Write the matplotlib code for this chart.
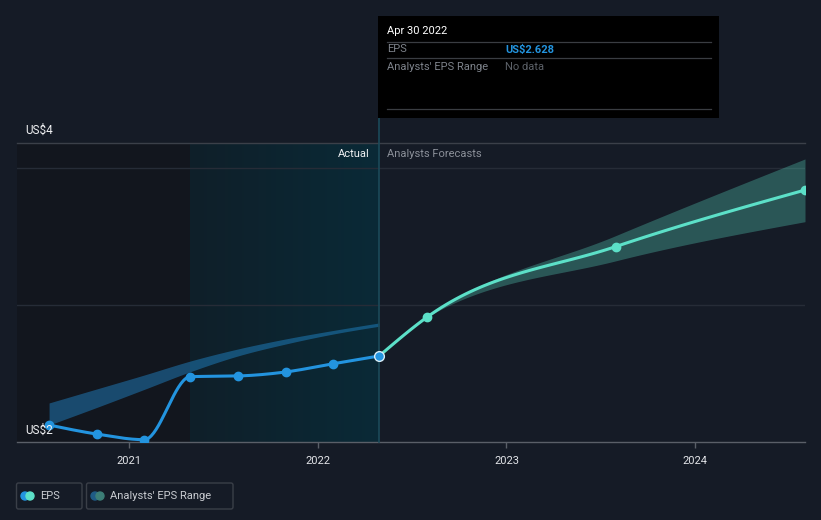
import numpy as np
import matplotlib
matplotlib.use("Agg")
import matplotlib.pyplot as plt
import matplotlib.dates as mdates
from matplotlib.patches import FancyBboxPatch, Rectangle, Circle

plt.rcParams['font.family'] = ['Roboto', 'DejaVu Sans']

# ---------------- data ----------------
past_dates = ["2020-07-31", "2020-10-31", "2021-01-31", "2021-04-30",
              "2021-07-31", "2021-10-31", "2022-01-31", "2022-04-30"]
past_eps = [2.124, 2.058, 2.017, 2.477, 2.482, 2.511, 2.571, 2.628]

past_range_low = [2.124, 2.252, 2.384, 2.513, 2.628, 2.715, 2.788, 2.845]
past_range_high = [2.285, 2.387, 2.489, 2.591, 2.679, 2.752, 2.814, 2.869]

fc_dates = ["2022-04-30", "2022-07-31", "2023-07-31", "2024-07-31"]
fc_eps = [2.628, 2.910, 3.426, 3.839]
fc_low = [2.628, 2.910, 3.322, 3.608]
fc_high = [2.628, 2.910, 3.506, 4.066]

year_ticks = ["2021-01-01", "2022-01-01", "2023-01-01", "2024-01-01"]
year_labels = ["2021", "2022", "2023", "2024"]
y_labels = ["US$4", "US$2"]

tooltip_date = "Apr 30 2022"
tooltip_eps = "US$2.628"

# ---------------- colors ----------------
BG = "#151b26"
LEFT_DARK = "#12161e"
BLUE = "#2394df"
MINT = "#5ce0c8"


def dn(lst):
    return mdates.date2num(np.array(lst, dtype="datetime64[D]"))


def monotone(x, y, n=40):
    x = np.asarray(x, float)
    y = np.asarray(y, float)
    if len(x) < 3:
        xs = np.linspace(x[0], x[-1], n)
        return xs, np.interp(xs, x, y)
    h = np.diff(x)
    s = np.diff(y) / h
    m = np.zeros(len(x))
    for i in range(1, len(x) - 1):
        s0, s1 = s[i - 1], s[i]
        h0, h1 = h[i - 1], h[i]
        p = (s0 * h1 + s1 * h0) / (h0 + h1)
        m[i] = (np.sign(s0) + np.sign(s1)) * min(abs(s0), abs(s1), 0.5 * abs(p))
    m[0] = (3 * s[0] - m[1]) / 2
    m[-1] = (3 * s[-1] - m[-2]) / 2
    xs_all, ys_all = [], []
    for i in range(len(x) - 1):
        t = np.linspace(0, 1, n)
        h00 = 2 * t**3 - 3 * t**2 + 1
        h10 = t**3 - 2 * t**2 + t
        h01 = -2 * t**3 + 3 * t**2
        h11 = t**3 - t**2
        yy = h00 * y[i] + h10 * h[i] * m[i] + h01 * y[i + 1] + h11 * h[i] * m[i + 1]
        xx = x[i] + t * h[i]
        if i > 0:
            xx, yy = xx[1:], yy[1:]
        xs_all.append(xx)
        ys_all.append(yy)
    return np.concatenate(xs_all), np.concatenate(ys_all)


W, H = 821, 520
fig = plt.figure(figsize=(W / 100, H / 100), dpi=100, facecolor=BG)

ax_l, ax_r, ax_b, ax_t = 17, 805, 442, 142.5
ax = fig.add_axes([ax_l / W, 1 - ax_b / H, (ax_r - ax_l) / W, (ax_b - ax_t) / H])
ax.set_facecolor(BG)

px = dn(past_dates)
fx = dn(fc_dates)
xmin = mdates.date2num(np.datetime64("2020-05-30"))
xmax = fx[-1]
ymin, ymax = 2.0, 4.186
ax.set_xlim(xmin, xmax)
ax.set_ylim(ymin, ymax)

# background regions
ax.axvspan(xmin, px[3], color=LEFT_DARK, zorder=0, lw=0)
c0 = np.array(matplotlib.colors.to_rgb("#0f1f29"))
c1 = np.array(matplotlib.colors.to_rgb("#0a2a37"))
grad = np.linspace(0, 1, 256)[None, :, None]
img = c0 + (c1 - c0) * grad
ax.imshow(img, extent=[px[3], px[-1], ymin, ymax], aspect="auto", zorder=0.5,
          interpolation="bilinear")

# grid
for gv in [3, 4]:
    ax.axhline(gv, color="#262c37", lw=1, zorder=1)

# past analyst range
bx, bl = monotone(px, past_range_low)
_, bh = monotone(px, past_range_high)
ax.fill_between(bx, bl, bh, color=BLUE, alpha=0.42, lw=0, zorder=2)

# forecast range
fxx, fl = monotone(fx, fc_low)
_, fh = monotone(fx, fc_high)
ax.fill_between(fxx, fl, fh, color=MINT, alpha=0.30, lw=0, zorder=2)

# vertical marker line
ax.axvline(px[-1], ymin=0, ymax=(ax_b - 118) / (ax_b - ax_t), color="#1b4a5a",
           lw=1.2, zorder=3, clip_on=False)

# lines
lx, ly = monotone(px, past_eps)
ax.plot(lx, ly, color=BLUE, lw=2.2, zorder=4, solid_capstyle="round")
ax.plot(px[:-1], past_eps[:-1], "o", color=BLUE, ms=6, zorder=5, mec=BLUE)
gx, gy = monotone(fx, fc_eps)
ax.plot(gx, gy, color=MINT, lw=2.2, zorder=4, solid_capstyle="round")
ax.plot(fx[1:], fc_eps[1:], "o", color=MINT, ms=6, zorder=5)
ax.plot(px[-1:], past_eps[-1:], "o", color=BLUE, ms=7, mec="#d8eef8", mew=1.0, zorder=6)

# axes styling
for sp in ["left", "right"]:
    ax.spines[sp].set_visible(False)
ax.spines["top"].set_color("#3b4049")
ax.spines["top"].set_linewidth(1)
ax.spines["bottom"].set_color("#5a5f68")
ax.spines["bottom"].set_linewidth(1)
ax.set_yticks([])
ax.set_xticks(dn(year_ticks))
ax.set_xticklabels(year_labels)
ax.tick_params(axis="x", colors="#5a5f68", length=4, width=1, pad=6,
               labelcolor="#e2e4e8", labelsize=8)

# overlay in pixel coordinates
ov = fig.add_axes([0, 0, 1, 1], facecolor="none")
ov.set_xlim(0, W)
ov.set_ylim(H, 0)
ov.axis("off")

ov.text(25, 130, y_labels[0], color="#f0f1f3", fontsize=8.5, va="center", ha="left")
ov.text(25, 430, y_labels[1], color="#f0f1f3", fontsize=8.5, va="center", ha="left")
ov.text(370, 154, "Actual", color="#f0f1f3", fontsize=8, va="center", ha="right")
ov.text(387, 154, "Analysts Forecasts", color="#8b9099", fontsize=8, va="center", ha="left")

# tooltip
ov.add_patch(Rectangle((378, 16), 341, 102, facecolor="#000000", edgecolor="none", zorder=10))
for yy in [41.5, 58.3, 109.3]:
    ov.plot([386.5, 711], [yy, yy], color="#3a3d42", lw=0.9, zorder=11)
ov.text(387, 31.5, tooltip_date, color="#ffffff", fontsize=8, va="center", ha="left", zorder=12)
ov.text(387, 49.5, "EPS", color="#7e838b", fontsize=8, va="center", ha="left", zorder=12)
ov.text(505, 49.5, tooltip_eps, color=BLUE, fontsize=8, fontweight="bold", va="center", ha="left", zorder=12)
ov.text(387, 66.5, "Analysts' EPS Range", color="#7e838b", fontsize=8, va="center", ha="left", zorder=12)
ov.text(505, 66.5, "No data", color="#5c6168", fontsize=8, va="center", ha="left", zorder=12)

# legend
for (x0, w) in [(16.5, 65.5), (86.5, 146.5)]:
    ov.add_patch(FancyBboxPatch((x0, 483), w, 26, boxstyle="round,pad=0,rounding_size=2",
                                facecolor="none", edgecolor="#3a3f48", lw=1))
ov.add_patch(Circle((25, 496), 4, color=BLUE))
ov.add_patch(Circle((30, 496), 4, color=MINT))
ov.text(40, 496, "EPS", color="#c9ccd1", fontsize=8, va="center", ha="left")
ov.add_patch(Circle((95, 496), 4, color="#1f5b85"))
ov.add_patch(Circle((100, 496), 4, color="#3c7e77"))
ov.text(110, 496, "Analysts' EPS Range", color="#c9ccd1", fontsize=8, va="center", ha="left")

fig.savefig("out.png", dpi=100, facecolor=BG)
